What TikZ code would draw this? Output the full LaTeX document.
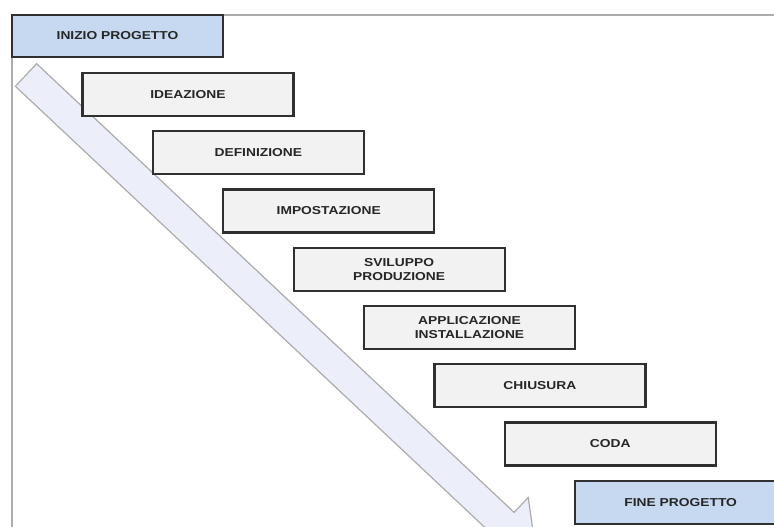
\documentclass[tikz,border=0pt]{standalone}
\usepackage{fontspec}
\newfontfamily\stepfont[FakeStretch=1.2]{Liberation Sans}
\usetikzlibrary{positioning}

\definecolor{boxgray}{HTML}{F2F2F2}
\definecolor{boxblue}{HTML}{C6D9F0}
\definecolor{edgegray}{HTML}{303030}
\definecolor{arrowfill}{HTML}{ECEEFA}

\tikzset{
	stepbox/.style={draw=edgegray, line width=2.2pt, fill=boxgray, minimum width=211pt, minimum height=43pt, inner sep=0pt, outer sep=0pt, align=center, text=black!85, font=\stepfont\bfseries\fontsize{11.5}{14}\selectfont},
	endbox/.style={stepbox, fill=boxblue, minimum height=42pt},
}

\begin{document}
\begin{tikzpicture}[x=1pt, y=-1pt]
	\begin{scope}
		\clip (0,0) rectangle (774,527);
		\fill[white] (0,0) rectangle (774,527);
		\draw[gray!65, line width=1.6pt] (774,15) -| (12,527);
		
		% big arrow
		\draw[gray!65, line width=1.2pt, fill=arrowfill] (36.6,63.7) -- (514.1,512.4) -- (528.2,497.5) -- (536.3,554.5) -- (478.8,549.9) -- (492.9,535) -- (15.4,86.3) -- cycle;
		
		\node[endbox, anchor=north west] (ini) at (12,15) {INIZIO PROGETTO};
		\node[stepbox, below=16pt of ini, xshift=70.4pt] (ide) {IDEAZIONE};
		\node[stepbox, below=15.25pt of ide, xshift=70.4pt] (def) {DEFINIZIONE};
		\node[stepbox, below=15.25pt of def, xshift=70.4pt] (imp) {IMPOSTAZIONE};
		\node[stepbox, below=15.25pt of imp, xshift=70.4pt] (svi) {SVILUPPO\\PRODUZIONE};
		\node[stepbox, below=15.25pt of svi, xshift=70.4pt] (app) {APPLICAZIONE\\INSTALLAZIONE};
		\node[stepbox, below=15.25pt of app, xshift=70.4pt] (chi) {CHIUSURA};
		\node[stepbox, below=15.25pt of chi, xshift=70.4pt] (cod) {CODA};
		\node[endbox, minimum height=43pt, below=15.25pt of cod, xshift=70.4pt] (fin) {FINE PROGETTO};
	\end{scope}
	\pgfresetboundingbox
	\useasboundingbox (0,0) rectangle (774,527);
\end{tikzpicture}
\end{document}
